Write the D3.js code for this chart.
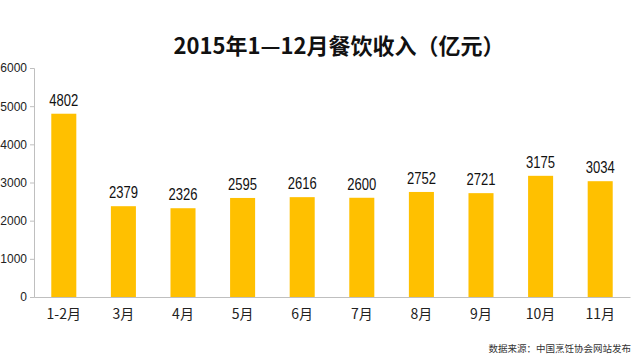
<!DOCTYPE html>
<html><head><meta charset="utf-8">
<script src="https://cdn.jsdelivr.net/npm/d3@7"></script>
<style>body{margin:0;background:#fff}svg{display:block}</style>
</head><body>
<svg id="c" width="640" height="360"></svg>
<script>
const categories = ["1-2月","3月","4月","5月","6月","7月","8月","9月","10月","11月"];
const values = [4802,2379,2326,2595,2616,2600,2752,2721,3175,3034];
const yTicks = [0,1000,2000,3000,4000,5000,6000];
const title = "2015年1—12月餐饮收入（亿元）";
const source = "数据来源：中国烹饪协会网站发布";

(function () {
const svg = d3.select("#c");
const mL = 34, mR = 630, mT = 68, mB = 297;
const x = d3.scaleBand().domain(categories).range([mL, mR]).paddingInner(0.58).paddingOuter(0.29);
const y = d3.scaleLinear().domain([0, 6000]).range([mB, mT]);

svg.append("text").attr("x", 339).attr("y", 54).attr("text-anchor", "middle")
  .attr("font-family", "'Noto Sans CJK SC', sans-serif").attr("font-weight", "bold")
  .attr("font-size", 22).attr("fill", "#111").text(title);

const yAxis = svg.append("g").attr("transform", `translate(${mL},0)`)
  .call(d3.axisLeft(y).tickValues(yTicks).tickSize(4).tickFormat(d3.format("d")));
yAxis.select(".domain").attr("stroke", "#bfbfbf");
yAxis.selectAll(".tick line").attr("stroke", "#bfbfbf");
yAxis.selectAll("text").attr("font-family", "'Liberation Sans', Arial, sans-serif").attr("font-size", 12).attr("fill", "#222");

svg.append("g").selectAll("rect").data(values).join("rect")
  .attr("x", (d, i) => x(categories[i])).attr("width", x.bandwidth())
  .attr("y", d => y(d)).attr("height", d => mB - y(d)).attr("fill", "#FFC000");

const xAxis = svg.append("g").attr("transform", `translate(0,${mB})`)
  .call(d3.axisBottom(x).tickSize(0).tickPadding(10));
xAxis.select(".domain").attr("stroke", "#bfbfbf");
xAxis.selectAll("text").attr("font-family", "'Noto Sans CJK SC', sans-serif").attr("font-size", 14).attr("fill", "#222").attr("dy", "0.85em");

svg.append("g").selectAll("text").data(values).join("text")
  .attr("x", (d, i) => x(categories[i]) + x.bandwidth() / 2).attr("y", d => y(d) - 8)
  .attr("text-anchor", "middle").attr("font-family", "'Liberation Sans', sans-serif")
  .attr("font-size", 16).attr("textLength", 29).attr("lengthAdjust", "spacingAndGlyphs")
  .attr("fill", "#111").text(d => d);

svg.append("text").attr("x", 631).attr("y", 352).attr("text-anchor", "end")
  .attr("font-family", "'Noto Sans CJK SC', sans-serif").attr("font-size", 9.5).attr("fill", "#333").text(source);
})();
</script>
</body></html>
